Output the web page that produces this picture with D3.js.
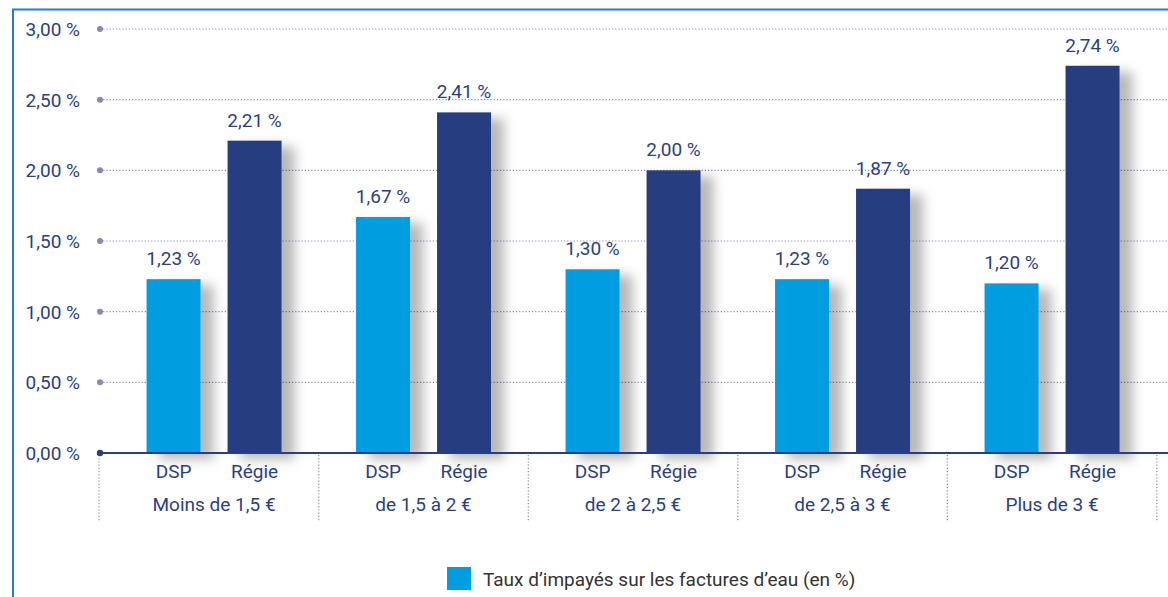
<!DOCTYPE html>
<html><head><meta charset="utf-8">
<script src="https://cdn.jsdelivr.net/npm/d3@7"></script>
<style>
html,body{margin:0;padding:0;background:#fff;}
svg{display:block;}
text{font-family:Roboto,"Liberation Sans",sans-serif;font-weight:400;}
</style></head>
<body>
<svg id="chart" width="1168" height="597"></svg>
<script>
const groups = ["Moins de 1,5 €", "de 1,5 à 2 €", "de 2 à 2,5 €", "de 2,5 à 3 €", "Plus de 3 €"];
const subgroups = ["DSP", "Régie"];
const dspValues = [1.23, 1.67, 1.30, 1.23, 1.20];
const regieValues = [2.21, 2.41, 2.00, 1.87, 2.74];
const yTicks = [0, 0.5, 1.0, 1.5, 2.0, 2.5, 3.0];
const legendLabel = "Taux d’impayés sur les factures d’eau (en %)";

const colors = {DSP: "#009ee0", "Régie": "#253d7f"};
const textColor = "#2b3f80";

const svg = d3.select("#chart");
const W = 1168;

const defs = svg.append("defs");
const f = defs.append("filter").attr("id","shadow").attr("x","-20%").attr("y","-10%").attr("width","170%").attr("height","130%");
f.append("feDropShadow").attr("dx",13).attr("dy",6).attr("stdDeviation",6)
 .attr("flood-color","#000").attr("flood-opacity",0.28);

// frame
svg.append("line").attr("x1",13).attr("x2",13).attr("y1",9).attr("y2",597).attr("stroke","#1f80d0").attr("stroke-width",2);
svg.append("line").attr("x1",12).attr("x2",W).attr("y1",9.5).attr("y2",9.5).attr("stroke","#1f80d0").attr("stroke-width",2);

const axisX = 100;
const y = d3.scaleLinear().domain([0,3]).range([453,29]);
const x = d3.scaleBand().domain(groups).range([109.3,1156.8]).paddingInner(0).paddingOuter(0);
const bw = x.bandwidth();
const xs = d3.scaleBand().domain(subgroups).range([bw/2-67.5, bw/2+67.5]).paddingInner(1/3).paddingOuter(0);

const fmt = v => d3.format(".2f")(v).replace(".", ",") + " %";

// gridlines
const grid = svg.append("g");
yTicks.filter(t=>t>0).forEach(t=>{
  grid.append("line").attr("x1",axisX).attr("x2",W).attr("y1",y(t)).attr("y2",y(t))
    .attr("stroke","#8b87b2").attr("stroke-width",1.2).attr("stroke-dasharray","1.2,2");
});

// separators
const sepXs = [axisX - 1].concat(groups.map(g=>x(g)+bw));
sepXs.forEach(sx=>{
  svg.append("line").attr("x1",sx).attr("x2",sx).attr("y1",455).attr("y2",522)
    .attr("stroke","#8a8a96").attr("stroke-width",1.2).attr("stroke-dasharray","1.2,2");
});

// bars
const data = [];
groups.forEach((g,i)=>{
  data.push({g, s:"DSP", v:dspValues[i]});
  data.push({g, s:"Régie", v:regieValues[i]});
});
const barsG = svg.append("g");
barsG.selectAll("rect").data(data).join("rect")
  .attr("x", d=>x(d.g)+xs(d.s))
  .attr("width", xs.bandwidth())
  .attr("y", d=>y(d.v))
  .attr("height", d=>y(0)-y(d.v))
  .attr("fill", d=>colors[d.s])
  .attr("filter","url(#shadow)");

// baseline
svg.append("line").attr("x1",axisX).attr("x2",W).attr("y1",y(0)).attr("y2",y(0)).attr("stroke","#2b3f80").attr("stroke-width",2);

// y tick dots & labels
const yAxis = svg.append("g");
yTicks.forEach(t=>{
  yAxis.append("circle").attr("cx",axisX).attr("cy",y(t)).attr("r",t===0?3.2:3)
    .attr("fill", t===0 ? "#2b3f80" : "#8b87b2");
  yAxis.append("text").attr("x",80).attr("y",y(t)+7).attr("text-anchor","end")
    .attr("font-size",19).attr("fill",textColor).text(fmt(t));
});

// value labels
svg.append("g").selectAll("text").data(data).join("text")
  .attr("x", d=>x(d.g)+xs(d.s)+xs.bandwidth()/2)
  .attr("y", d=>y(d.v)-14)
  .attr("text-anchor","middle").attr("font-size",19).attr("fill",textColor)
  .text(d=>fmt(d.v));

// sub labels
data.forEach(d=>{
  svg.append("text").attr("x", x(d.g)+xs(d.s)+xs.bandwidth()/2).attr("y",478)
    .attr("text-anchor","middle").attr("font-size",19).attr("fill",textColor).text(d.s);
});
groups.forEach(g=>{
  svg.append("text").attr("x", x(g)+bw/2).attr("y",511)
    .attr("text-anchor","middle").attr("font-size",19).attr("fill",textColor).text(g);
});

// legend
svg.append("rect").attr("x",447).attr("y",567).attr("width",24).attr("height",23).attr("fill",colors.DSP);
svg.append("text").attr("x",483).attr("y",586).attr("font-size",19).attr("fill","#333").text(legendLabel);
</script>
</body></html>
